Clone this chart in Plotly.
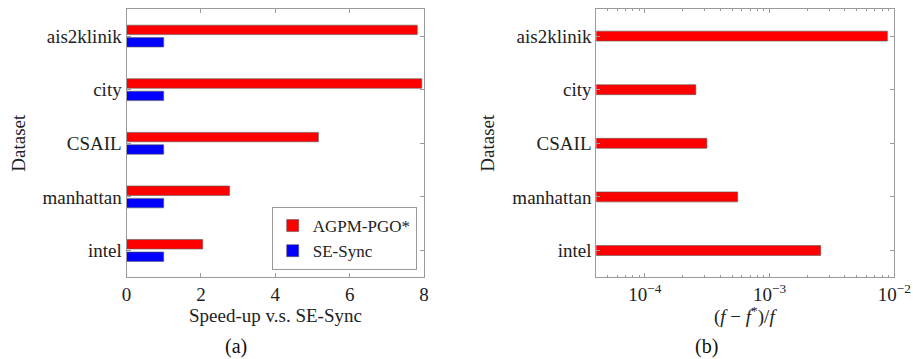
import plotly.graph_objects as go

datasets = ["ais2klinik", "city", "CSAIL", "manhattan", "intel"]
speedup_agpm = [7.82, 7.94, 5.16, 2.77, 2.05]
speedup_sesync = [1.0, 1.0, 1.0, 1.0, 1.0]
rel_gap = [8.8e-3, 2.56e-4, 3.14e-4, 5.54e-4, 2.57e-3]

log_tickvals = [1e-4, 1e-3, 1e-2]
log_ticktext = ["10<sup>−4</sup>", "10<sup>−3</sup>", "10<sup>−2</sup>"]

FONT = "Liberation Serif"
AX = "#9a9a9a"
RED = "#ff0000"
BLUE = "#0000ff"
EDGE = "#5a5a5a"
TXT = "#222222"

fig = go.Figure()
fig.add_trace(go.Bar(y=datasets, x=speedup_agpm, orientation="h", name="AGPM-PGO*",
                     marker=dict(color=RED, line=dict(color=EDGE, width=0.6)),
                     xaxis="x", yaxis="y", showlegend=True))
fig.add_trace(go.Bar(y=datasets, x=speedup_sesync, orientation="h", name="SE-Sync",
                     marker=dict(color=BLUE, line=dict(color=EDGE, width=0.6)),
                     xaxis="x", yaxis="y", showlegend=True))
fig.add_trace(go.Bar(y=datasets, x=rel_gap, orientation="h", name="gap",
                     marker=dict(color=RED, line=dict(color=EDGE, width=0.6)),
                     xaxis="x2", yaxis="y2", showlegend=False, width=0.185))

ydom = [1 - 277.3 / 359, 1 - 9.3 / 359]
common_y = dict(type="category", range=[4.5, -0.5], showline=True, linecolor=AX, linewidth=1,
                mirror="ticks", ticks="inside", ticklen=4, tickcolor=AX, automargin=False,
                tickfont=dict(family=FONT, size=19, color=TXT), showgrid=False, zeroline=False,
                domain=ydom, fixedrange=True)


def note(text, x, y, size=19, angle=0, color=TXT):
    return dict(text=text, x=x / 913, y=1 - y / 359, xref="paper", yref="paper",
                xanchor="center", yanchor="middle", showarrow=False, textangle=angle,
                font=dict(family=FONT, size=size, color=color))


fig.update_layout(
    width=913, height=359, margin=dict(l=0, r=0, t=0, b=0, autoexpand=False),
    paper_bgcolor="white", plot_bgcolor="white",
    barmode="group", bargap=0.537, bargroupgap=0.24,
    font=dict(family=FONT, size=18, color=TXT),
    xaxis=dict(domain=[126.5 / 913, 424 / 913], range=[0, 8], tickvals=[0, 2, 4, 6, 8],
               showline=True, linecolor=AX, linewidth=1, mirror="ticks", ticks="inside",
               ticklen=4, tickcolor=AX, showgrid=False, zeroline=False, anchor="y",
               automargin=False, tickfont=dict(family=FONT, size=19, color=TXT)),
    yaxis=dict(anchor="x", **common_y),
    xaxis2=dict(domain=[596.3 / 913, 894.3 / 913], type="log", range=[-4.39, -2],
                tickvals=log_tickvals, ticktext=log_ticktext,
                showline=True, linecolor=AX, linewidth=1, mirror="ticks", ticks="inside",
                ticklen=4, tickcolor=AX, showgrid=False, zeroline=False, anchor="y2",
                automargin=False,
                minor=dict(ticks="inside", ticklen=2, tickcolor=AX, dtick="D1", showgrid=False),
                tickfont=dict(family=FONT, size=19, color=TXT)),
    yaxis2=dict(anchor="x2", **common_y),
    legend=dict(x=416.7 / 913, xanchor="right", y=1 - 270 / 359, yanchor="bottom",
                bordercolor=AX, borderwidth=1, bgcolor="white",
                font=dict(family=FONT, size=17, color=TXT), tracegroupgap=0,
                itemwidth=30),
    annotations=[
        note("Speed-up v.s. SE-Sync", 275, 315),
        note("Dataset", 17.7, 143, angle=-90),
        note("(a)", 236, 346, size=20, color="#111"),
        note("(<i>f</i> − <i>f</i><sup>*</sup>)/<i>f</i>", 745, 315),
        note("Dataset", 486.7, 143, angle=-90),
        note("(b)", 706.7, 346, size=20, color="#111"),
    ],
)

fig.write_html("out.html")
